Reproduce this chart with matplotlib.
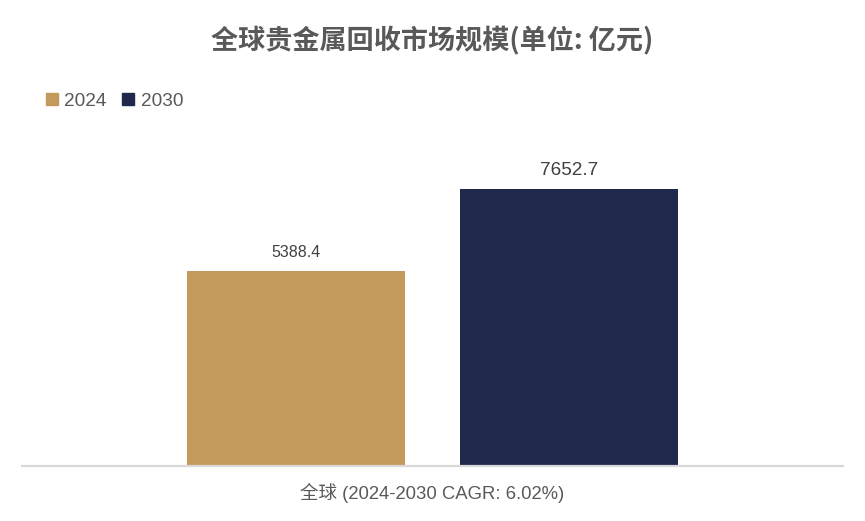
import matplotlib
matplotlib.use('Agg')
import matplotlib.pyplot as plt
from matplotlib.patches import Patch

plt.rcParams['font.family'] = ['Liberation Sans', 'Noto Sans CJK SC', 'DejaVu Sans']

# data
category = '全球 (2024-2030 CAGR: 6.02%)'
years = ['2024', '2030']
values = [5388.4, 7652.7]
colors = ['#C39A5B', '#20284C']
label_sizes = [11.5, 13.7]

fig = plt.figure(figsize=(8.65, 5.21), dpi=100)
ax = fig.add_axes([22 / 865, 55 / 521, 821 / 865, 326 / 521])

offsets = [-0.1663, 0.1663]
width = 0.2655
for i, (yr, v) in enumerate(zip(years, values)):
    ax.bar(offsets[i], v, width=width, color=colors[i], label=yr)
    ax.annotate(f'{v:.1f}', (offsets[i], v), xytext=(0, 10), textcoords='offset points',
                ha='center', va='baseline', fontsize=label_sizes[i], color='#404040')

ax.set_xlim(-0.5, 0.5)
ax.set_ylim(0, 9000)
ax.set_yticks([])
ax.set_xticks([0])
ax.set_xticklabels([category], fontsize=13.3, color='#595959')
ax.tick_params(axis='x', length=0, pad=12)
for s in ['top', 'right', 'left']:
    ax.spines[s].set_visible(False)
ax.spines['bottom'].set_color('#D9D9D9')
ax.spines['bottom'].set_linewidth(1.6)

fig.text(432.5 / 865, 1 - 41 / 521, '全球贵金属回收市场规模(单位: 亿元)', ha='center', va='center',
         fontsize=19.5, fontweight='bold', color='#595959', family=['Noto Sans CJK SC', 'DejaVu Sans'])

handles = [Patch(color=c, label=y) for c, y in zip(colors, years)]
fig.legend(handles=handles, loc='center left', bbox_to_anchor=(46 / 865, 1 - 101 / 521), ncol=2,
           frameon=False, fontsize=13.7, handlelength=0.62, handleheight=0.62, handletextpad=0.35,
           columnspacing=0.8, borderpad=0, borderaxespad=0, labelcolor='#595959')

fig.savefig('out.png', dpi=100)
